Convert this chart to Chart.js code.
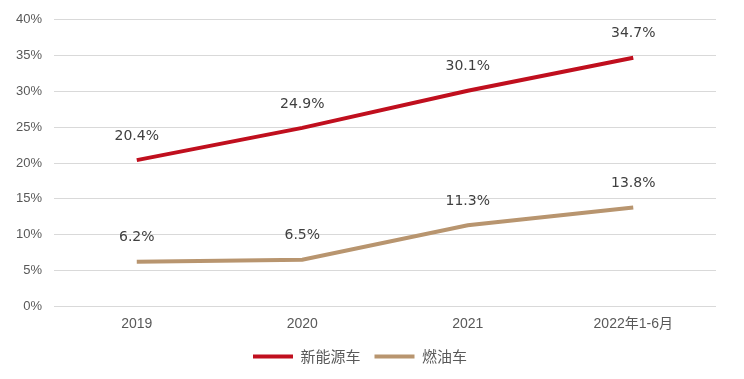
<!DOCTYPE html>
<html>
<head>
<meta charset="utf-8">
<script src="https://cdn.jsdelivr.net/npm/chart.js@4/dist/chart.umd.min.js"></script>
<style>
  html, body { margin: 0; padding: 0; background: #fff; }
  #wrap { width: 744px; height: 379px; }
</style>
</head>
<body>
<div id="wrap"><canvas id="shareChart"></canvas></div>
<script>
const categories = ["2019", "2020", "2021", "2022年1-6月"];
const nevValues = [20.4, 24.9, 30.1, 34.7];
const fuelValues = [6.2, 6.5, 11.3, 13.8];
const seriesNames = ["新能源车", "燃油车"];

const textColor = "#595959";
const fontFamily = "'Liberation Sans', 'Noto Sans CJK SC', sans-serif";

// draws the value above each point
const pointLabels = {
    id: "pointLabels",
    afterDatasetsDraw(chart) {
        const ctx = chart.ctx;
        ctx.save();
        ctx.font = "14px 'DejaVu Sans', sans-serif";
        ctx.fillStyle = "#404040";
        ctx.textAlign = "center";
        ctx.textBaseline = "middle";
        chart.data.datasets.forEach((ds, i) => {
            chart.getDatasetMeta(i).data.forEach((pt, j) => {
                ctx.fillText(ds.data[j].toFixed(1) + "%", pt.x, pt.y - 24);
            });
        });
        ctx.restore();
    }
};

new Chart(document.getElementById("shareChart"), {
    type: "line",
    data: {
        labels: categories,
        datasets: [
            {
                label: seriesNames[0],
                data: nevValues,
                borderColor: "#C00F1E",
                backgroundColor: "#C00F1E",
                borderWidth: 4,
                pointRadius: 0,
                tension: 0
            },
            {
                label: seriesNames[1],
                data: fuelValues,
                borderColor: "#B8956F",
                backgroundColor: "#B8956F",
                borderWidth: 4,
                pointRadius: 0,
                tension: 0
            }
        ]
    },
    options: {
        responsive: true,
        maintainAspectRatio: false,
        animation: false,
        layout: {
            padding: { top: 8, right: 28, left: 4, bottom: 5 }
        },
        plugins: {
            legend: {
                position: "bottom",
                labels: {
                    boxWidth: 40,
                    boxHeight: 4,
                    padding: 14,
                    color: textColor,
                    font: { size: 15, family: "'Noto Sans CJK SC', sans-serif" },
                    generateLabels(chart) {
                        return Chart.defaults.plugins.legend.labels.generateLabels(chart)
                            .map(l => ({ ...l, lineWidth: 0 }));
                    }
                }
            },
            tooltip: { enabled: false }
        },
        scales: {
            x: {
                offset: true,
                grid: { display: false },
                border: { display: false },
                ticks: {
                    color: textColor,
                    padding: 2,
                    font: { size: 14, family: fontFamily }
                }
            },
            y: {
                min: 0,
                max: 40,
                border: { display: false },
                grid: { color: "#D9D9D9", drawTicks: false },
                ticks: {
                    stepSize: 5,
                    padding: 12,
                    color: textColor,
                    font: { size: 13, family: fontFamily },
                    callback: v => v + "%"
                }
            }
        }
    },
    plugins: [pointLabels]
});
</script>
</body>
</html>
